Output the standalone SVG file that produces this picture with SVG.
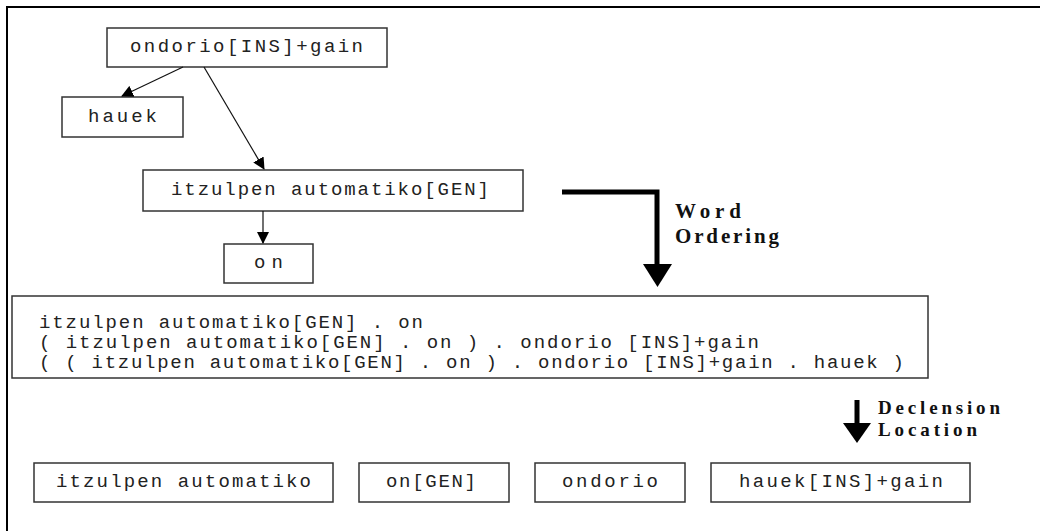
<svg xmlns="http://www.w3.org/2000/svg" width="1040" height="531" viewBox="0 0 1040 531">
<defs>
<style>
.box{fill:#fff;stroke:#333;stroke-width:1.5}
.mono{font-family:"Liberation Mono","Courier New",monospace;font-size:19px;fill:#222}
.lbl{font-family:"Liberation Serif","Times New Roman",serif;font-size:21px;font-weight:bold;fill:#111}
.lbl2{font-family:"Liberation Serif","Times New Roman",serif;font-size:19px;font-weight:bold;fill:#111}
.edge{stroke:#111;stroke-width:1.2;fill:none;marker-end:url(#ah)}
.big{stroke:#000;stroke-width:5;fill:none}
</style>
<marker id="ah" viewBox="0 0 12 12" refX="11" refY="6" markerWidth="12" markerHeight="12" markerUnits="userSpaceOnUse" orient="auto">
<path d="M0,0 L12,6 L0,12 z" fill="#000"/>
</marker>
</defs>
<rect width="1040" height="531" fill="#fff"/>
<g id="frame">
<path d="M7,531 L7,7 L1040,7" fill="none" stroke="#000" stroke-width="2"/>
</g>
<g id="n-ondorio">
<rect class="box" x="107" y="28" width="280" height="39"/>
<text class="mono" x="130" y="52" textLength="233" lengthAdjust="spacing">ondorio[INS]+gain</text>
</g>
<g id="n-hauek">
<rect class="box" x="62" y="97" width="121" height="40"/>
<text class="mono" x="88" y="122" textLength="69" lengthAdjust="spacing">hauek</text>
</g>
<g id="n-itzulpen">
<rect class="box" x="143" y="170" width="380" height="41"/>
<text class="mono" x="171" y="195" textLength="318" lengthAdjust="spacing">itzulpen automatiko[GEN]</text>
</g>
<g id="n-on">
<rect class="box" x="224" y="244" width="89" height="39"/>
<text class="mono" x="254" y="268" textLength="29" lengthAdjust="spacing">on</text>
</g>
<g id="connectors">
<line class="edge" x1="183" y1="67" x2="122" y2="96"/>
<line class="edge" x1="204" y1="67" x2="264" y2="169"/>
<line class="edge" x1="263" y1="211" x2="263" y2="243"/>
</g>
<g id="word-ordering">
<polyline class="big" points="562,192 657,192 657,268"/>
<polygon points="643,264 672,264 657.5,287" fill="#000"/>
<text class="lbl" x="675" y="218" textLength="66" lengthAdjust="spacing">Word</text>
<text class="lbl" x="675" y="243" textLength="104" lengthAdjust="spacing">Ordering</text>
</g>
<g id="n-listing">
<rect class="box" x="12" y="296" width="916" height="82"/>
<text class="mono" x="39" y="328" textLength="384" lengthAdjust="spacing">itzulpen automatiko[GEN] . on</text>
<text class="mono" x="39" y="348" textLength="720" lengthAdjust="spacing">( itzulpen automatiko[GEN] . on ) . ondorio [INS]+gain</text>
<text class="mono" x="39" y="368" textLength="865" lengthAdjust="spacing">( ( itzulpen automatiko[GEN] . on ) . ondorio [INS]+gain . hauek )</text>
</g>
<g id="declension">
<rect x="854.5" y="400" width="5" height="26" fill="#000"/>
<polygon points="843,423 871,423 857,443" fill="#000"/>
<text class="lbl2" x="878" y="414" textLength="122" lengthAdjust="spacing">Declension</text>
<text class="lbl2" x="878" y="436" textLength="99" lengthAdjust="spacing">Location</text>
</g>
<g id="n-b1">
<rect class="box" x="34" y="463" width="299" height="39"/>
<text class="mono" x="56" y="487" textLength="255" lengthAdjust="spacing">itzulpen automatiko</text>
</g>
<g id="n-b2">
<rect class="box" x="359" y="463" width="150" height="39"/>
<text class="mono" x="386" y="487" textLength="90" lengthAdjust="spacing">on[GEN]</text>
</g>
<g id="n-b3">
<rect class="box" x="535" y="463" width="150" height="39"/>
<text class="mono" x="562" y="487" textLength="96" lengthAdjust="spacing">ondorio</text>
</g>
<g id="n-b4">
<rect class="box" x="711" y="463" width="259" height="39"/>
<text class="mono" x="739" y="487" textLength="204" lengthAdjust="spacing">hauek[INS]+gain</text>
</g>
</svg>
